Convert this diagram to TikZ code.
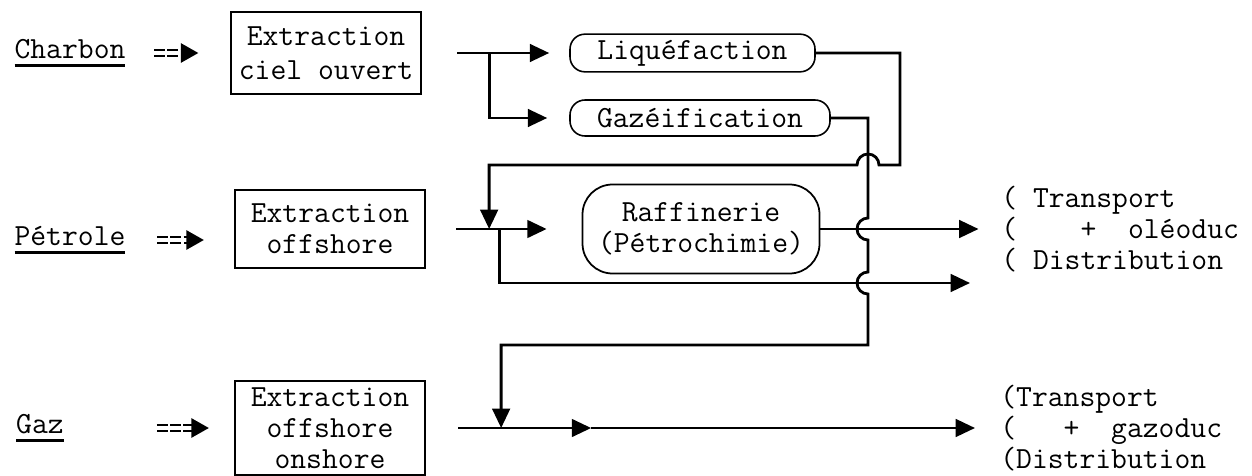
\documentclass[tikz,border=0pt]{standalone}
\usepackage{fontspec}
\newcommand{\srcname}[1]{\setbox0=\hbox{#1}\rlap{\vrule width \wd0 height -3.5pt depth 5.1pt}\box0}
\usetikzlibrary{shapes, arrows.meta}
\tikzstyle{source} = [text centered]
\tikzstyle{extraction} = [rectangle, minimum width=3.8cm, minimum height=1.6cm, align=center, draw=black, line width=1.3pt]
\tikzstyle{process} = [rectangle, rounded corners=0.3cm, minimum height=0.72cm, text centered, draw=black, line width=0.9pt]
\tikzstyle{refinery} = [rectangle, rounded corners=0.6cm, minimum width=4.74cm, minimum height=1.78cm, align=center, draw=black, line width=1pt]
\tikzstyle{outlet} = [align=left, anchor=west, inner sep=0pt]
\tikzstyle{edge} = [line width=1.6pt, ->, >={Triangle[length=11pt, width=10pt]}]
\tikzstyle{feed} = [double, double distance=1.8pt, line width=1.1pt, dash pattern=on 6pt off 1.5pt, ->, >={Triangle[length=10pt, width=11pt]}]

\begin{document}
\begin{tikzpicture}[node distance=2cm, font=\ttfamily\fontsize{17.5}{17.5}\selectfont]
\useasboundingbox (0,0) rectangle (25.04,-9.5);

\node (0) [source] at (1.4,-1.06) {\srcname{Charbon}};
\node (1) [extraction, right of=0, xshift=3.12cm, minimum height=1.64cm] {Extraction\\[2pt]ciel ouvert};
\node (2) [process, right of=1, xshift=5.33cm, minimum width=4.9cm] {Liquéfaction};
\node (3) [process, below of=2, xshift=0.15cm, yshift=0.7cm, minimum width=5.2cm] {Gazéification};
\node (4) [source, below of=0, yshift=-1.74cm] {\srcname{Pétrole}};
\node (5) [extraction, right of=4, xshift=3.2cm, yshift=0.22cm, minimum height=1.56cm] {Extraction\\offshore};
\node (6) [refinery, right of=5, xshift=5.42cm] {Raffinerie\\(Pétrochimie)};
\node (7) [right of=6, outlet, xshift=4.0cm] {(\ Transport\\(\ \ \ \ +\ \ oléoduc\\(\ Distribution};
\node (8) [source, below of=4, xshift=-0.6cm, yshift=-1.76cm] {\srcname{Gaz}};
\node (9) [extraction, right of=8, xshift=3.8cm, minimum height=1.88cm] {Extraction\\offshore\\onshore};
\node (10) [right of=9, outlet, xshift=11.4cm] {(Transport\\(\ \ \ +\ \ gazoduc\\(Distribution};

\coordinate (j0) at ([xshift=1.35cm]1.east);
\coordinate (j1) at ([xshift=1.26cm]5.east);
\coordinate (j2) at ([xshift=1.46cm]5.east);
\coordinate (j3) at ([xshift=1.5cm]9.east);
\coordinate (gm) at ([xshift=3.3cm]9.east);
\coordinate (k) at (19.4,-5.66);

\draw [feed, shorten <=0.45cm, shorten >=0.63cm] (0) -- (0 -| 1.west);
\draw [feed, shorten <=0.51cm, shorten >=0.6cm] (4) -- (4 -| 5.west);
\draw [feed, shorten <=1.74cm, shorten >=0.5cm] (8) -- (8 -| 9.west);

\draw [edge, shorten >=0.4cm] ([xshift=0.7cm]1.east) -- (2);
\draw [edge, shorten >=0.44cm] (j0) |- (3);
\draw [edge] (2.east) -| (18.0,-3.3) -- (17.58,-3.3) arc (0:180:0.22) -| (j1);
\draw [edge] (3.east) -| (17.36,-4.36) arc (90:270:0.22) -- (17.36,-5.44) arc (90:270:0.22) -- (17.36,-6.9) -| (j3);
\draw [edge, shorten >=0.7cm] ([xshift=0.6cm]5.east) -- (6);
\draw [edge] (j2) |- (k);
\draw [edge, shorten >=0.45cm] (6) -- (7);
\draw [edge] ([xshift=0.64cm]9.east) -- (gm);
\draw [edge, shorten >=0.5cm] (gm) -- (10);

\end{tikzpicture}
\end{document}
